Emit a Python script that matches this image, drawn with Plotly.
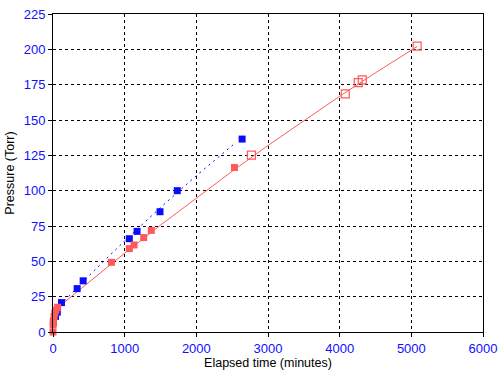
import plotly.graph_objects as go

# Data
blue_x = [5, 35, 60, 118, 337, 421, 1065, 1173, 1493, 1734, 2639]
blue_y = [7, 11, 14, 20.8, 30.7, 36.2, 66, 71.2, 85.1, 100, 136.5]

red_x = [0, 2, 8, 15, 25, 40, 65, 815, 1065, 1131, 1265, 1372, 2532]
red_y = [0, 5, 8, 11, 13.5, 15.5, 17.5, 49.3, 59, 61.6, 66.8, 71.9, 116.4]

red_open_x = [2769, 4078, 4259, 4315, 5081]
red_open_y = [125.2, 168.5, 176.5, 178.4, 202.2]

red_fit_x = [60, 500, 1000, 1500, 2000, 2500, 3000, 3500, 4000, 4500, 5080]
red_fit_y = [17, 35.4, 55.8, 75.6, 94.9, 113.7, 132.0, 149.6, 166.8, 183.4, 202]

blue_fit_x = [100, 500, 1000, 1500, 2000, 2540]
blue_fit_y = [19, 39.7, 64.5, 88.1, 110.6, 133.6]

x_ticks = [0, 1000, 2000, 3000, 4000, 5000, 6000]
y_ticks = [0, 25, 50, 75, 100, 125, 150, 175, 200, 225]

BLUE = "#0a0aff"
RED = "#ff5a5a"

fig = go.Figure()
fig.add_trace(go.Scatter(x=red_fit_x, y=red_fit_y, mode="lines",
                         line=dict(color=RED, width=1), cliponaxis=False))
fig.add_trace(go.Scatter(x=blue_fit_x, y=blue_fit_y, mode="lines",
                         line=dict(color=BLUE, width=1, dash="2px,4px"), cliponaxis=False))
fig.add_trace(go.Scatter(x=blue_x, y=blue_y, mode="markers",
                         marker=dict(symbol="square", size=7, color=BLUE), cliponaxis=False))
fig.add_trace(go.Scatter(x=red_x, y=red_y, mode="markers",
                         marker=dict(symbol="square", size=7, color=RED), cliponaxis=False))
fig.add_trace(go.Scatter(x=red_open_x, y=red_open_y, mode="markers",
                         marker=dict(symbol="square-open", size=8, color=RED,
                                     line=dict(width=1.2, color=RED)), cliponaxis=False))

axis_common = dict(
    showline=True, linecolor="black", linewidth=1, mirror=True,
    ticks="outside", ticklen=4, tickcolor="black", tickwidth=1,
    showgrid=True, gridcolor="black", gridwidth=1, griddash="3px,3px",
    zeroline=False, automargin=False,
    tickfont=dict(color="#1010ff", size=13, family="Liberation Sans"),
    title_font=dict(color="black", size=12.5, family="Liberation Sans"),
)

fig.update_xaxes(range=[0, 6000], tickvals=x_ticks, title_text="Elapsed time (minutes)",
                 title_standoff=8, **axis_common)
fig.update_yaxes(range=[0, 225], tickvals=y_ticks, title_text="Pressure (Torr)",
                 title_standoff=6, **axis_common)

fig.update_layout(
    width=503, height=370,
    margin=dict(l=52.5, r=19.5, t=14, b=37.5),
    plot_bgcolor="white", paper_bgcolor="white",
    showlegend=False,
    font=dict(family="Liberation Sans", size=13),
)

fig.write_html("out.html")
